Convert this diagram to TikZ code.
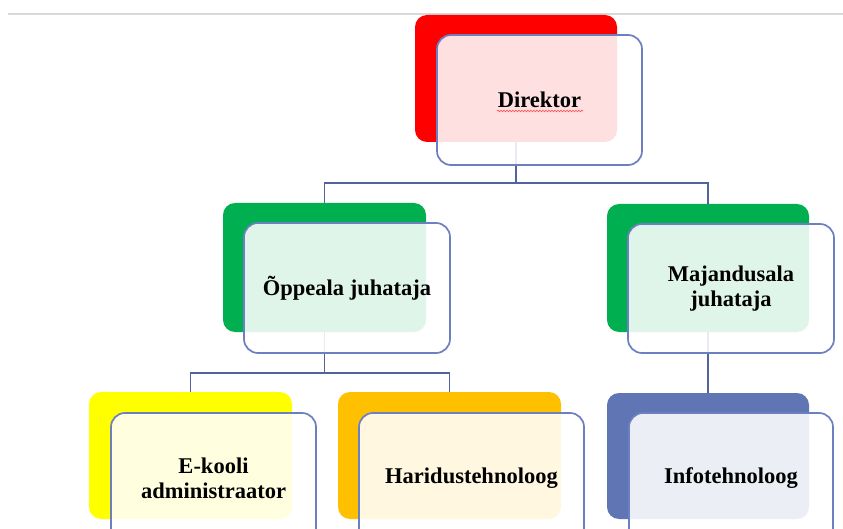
\documentclass[tikz,border=0pt]{standalone}
\usepackage{fontspec}
\setmainfont{Liberation Serif}
\usetikzlibrary{decorations.pathmorphing}
\definecolor{cred}{RGB}{255,0,0}
\definecolor{cgreen}{RGB}{0,176,80}
\definecolor{cyellow}{RGB}{255,255,0}
\definecolor{corange}{RGB}{255,192,0}
\definecolor{cblue}{RGB}{96,117,180}
\definecolor{connc}{RGB}{82,98,160}
\definecolor{borderc}{RGB}{108,127,192}
\definecolor{topline}{RGB}{217,217,217}
\tikzset{
  colbox/.style={rectangle, rounded corners=12pt, inner sep=0pt, draw=none},
  whitebox/.style={rectangle, rounded corners=14pt, inner sep=0pt, draw=borderc, line width=1.7pt,
    fill=white, fill opacity=0.88, text opacity=1, align=center,
    font=\fontsize{22.5}{25}\selectfont\bfseries, text=black},
  conn/.style={draw=connc, line width=1.8pt}
}
\begin{document}
\begin{tikzpicture}[x=1pt,y=-1pt]
\useasboundingbox (0,0) rectangle (843,529);
\draw[topline, line width=2pt] (8,14) -- (843,14);
% coloured back boxes
\node[colbox, fill=cred, minimum width=202pt, minimum height=127pt] (dirc) at (516,78.5) {};
\node[colbox, fill=cgreen, minimum width=203pt, minimum height=129pt] (oppc) at (324.5,267.5) {};
\node[colbox, fill=cgreen, minimum width=202pt, minimum height=128pt] (majc) at (708,268) {};
\node[colbox, fill=cyellow, minimum width=203pt, minimum height=127pt] (ekc) at (190.5,455.5) {};
\node[colbox, fill=corange, minimum width=223pt, minimum height=127pt] (harc) at (449.5,455.5) {};
\node[colbox, fill=cblue, minimum width=202pt, minimum height=126pt] (infc) at (708,456) {};
% connectors
\coordinate (b1) at (516,183);
\coordinate (b2) at (324.5,373);
\draw[conn] (dirc.south) -- (b1);
\draw[conn] (oppc.north) |- (b1) -| (majc.north);
\draw[conn] (oppc.south) -- (b2);
\draw[conn] (ekc.north) |- (b2) -| (harc.north);
\draw[conn] (majc.south) -- (infc.north);
% front boxes
\node[whitebox, minimum width=205pt, minimum height=130pt] (dirw) at (539.5,100) {Direktor};
\node[whitebox, minimum width=206pt, minimum height=130pt] (oppw) at (347,288) {Õppeala juhataja};
\node[whitebox, minimum width=206pt, minimum height=129pt] (majw) at (731,288.5) {Majandusala\\juhataja};
\node[whitebox, minimum width=205pt, minimum height=130pt] (ekw) at (213.5,478) {E-kooli\\administraator};
\node[whitebox, minimum width=225pt, minimum height=130pt] (harw) at (471.5,478) {Haridustehnoloog};
\node[whitebox, minimum width=204pt, minimum height=130pt] (infw) at (731,478) {Infotehnoloog};
% spell-check underline
\coordinate (u1) at (497,111);
\coordinate (u2) at (583,111);
\draw[red!70, line width=0.6pt, decorate, decoration={snake, amplitude=0.8pt, segment length=3pt}] (u1) -- (u2);
\end{tikzpicture}
\end{document}
